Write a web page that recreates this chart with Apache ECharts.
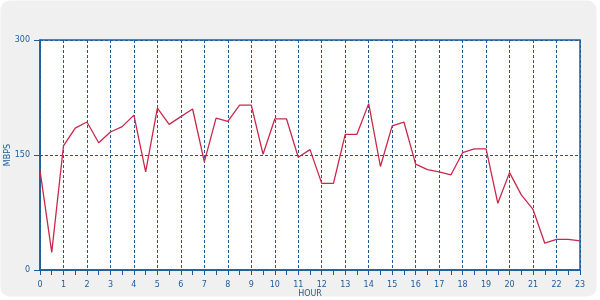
<!DOCTYPE html>
<html><head><meta charset="utf-8">
<script src="https://cdn.jsdelivr.net/npm/echarts@6/dist/echarts.min.js"></script>
<style>html,body{margin:0;padding:0;background:#fff}#c{width:600px;height:300px}</style>
</head><body><div id="c"></div>
<script>
const hours = [0,0.5,1,1.5,2,2.5,3,3.5,4,4.5,5,5.5,6,6.5,7,7.5,8,8.5,9,9.5,10,10.5,11,11.5,12,12.5,13,13.5,14,14.5,15,15.5,16,16.5,17,17.5,18,18.5,19,19.5,20,20.5,21,21.5,22,22.5,23];
const mbps = [130,23,162,185,193,166,180,187,202,128,211,190,200,210,141,198,194,215,215,151,197,197,147,157,113,113,177,177,217,135,188,193,138,131,128,124,153,158,158,87,127,98,79,35,40,40,38];
const yTicks = [0,150,300];
const blue = '#1d5c98';
const chart = echarts.init(document.getElementById('c'));
const font = {color: blue, fontFamily: 'DejaVu Sans', fontSize: 8};
chart.setOption({
  animation: false,
  backgroundColor: '#ffffff',
  graphic: [{type:'rect', z:-10, shape:{x:0.5,y:0.5,width:596,height:296,r:9}, style:{fill:'#f0f0f0'}}],
  grid: {left:40, right:20, top:40, bottom:30, outerBoundsMode:'none', containLabel:false, show:true, backgroundColor:'#ffffff', borderColor:blue, borderWidth:1.5},
  xAxis: {
    type:'value', min:0, max:23, interval:1,
    name:'HOUR', nameLocation:'middle', nameGap:20, nameMoveOverlap:false, nameTextStyle: font,
    axisLine:{lineStyle:{color:blue, width:1.5}},
    axisTick:{show:true, length:5, lineStyle:{color:blue, width:1}},
    minorTick:{show:true, splitNumber:2, length:5, lineStyle:{color:blue, width:1}},
    axisLabel:Object.assign({margin:11}, font),
    splitLine:{show:true, lineStyle:{color:blue, type:[3,2], width:1}}
  },
  yAxis: {
    type:'value', min:0, max:300, interval:150,
    name:'MBPS', nameLocation:'middle', nameGap:28, nameMoveOverlap:false, nameRotate:90, nameTextStyle: font,
    axisLine:{show:true, lineStyle:{color:blue, width:1.5}},
    axisTick:{show:true, length:6, lineStyle:{color:blue, width:1}},
    axisLabel:Object.assign({margin:10}, font),
    splitLine:{show:true, lineStyle:{color:blue, type:[3,2], width:1}}
  },
  series: [{
    type:'line', data: hours.map((h,i)=>[h, mbps[i]]),
    showSymbol:false, lineStyle:{color:'#c8294b', width:1.3}, itemStyle:{color:'#c8294b'}
  }]
});
</script></body></html>
